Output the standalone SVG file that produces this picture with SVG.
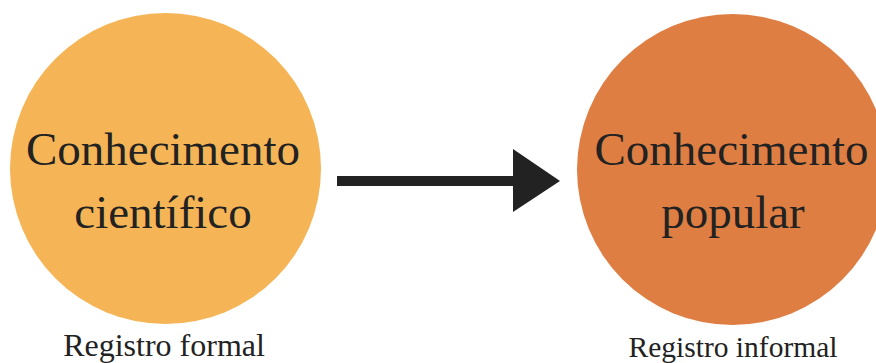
<svg xmlns="http://www.w3.org/2000/svg" width="876" height="363" viewBox="0 0 876 363">
<style>
.t{font-family:'Liberation Serif', 'Times New Roman', Times, serif;fill:#222;text-anchor:middle}
.big{font-size:47px}
</style>
<rect width="876" height="363" fill="#fff"/>
<g id="node-cientifico">
<circle cx="165.5" cy="168.5" r="155.5" fill="#F5B556"/>
<text class="t big" x="163" y="165">Conhecimento</text>
<text class="t big" x="163" y="228">científico</text>
<text class="t" x="164" y="356" font-size="32">Registro formal</text>
</g>
<g id="node-popular">
<circle cx="732.5" cy="169.5" r="155.5" fill="#DE7E43"/>
<text class="t big" x="731.5" y="165">Conhecimento</text>
<text class="t big" x="733" y="228">popular</text>
<text class="t" x="733" y="357" font-size="29.5">Registro informal</text>
</g>
<g id="connectors">
<rect x="337" y="176" width="177" height="10" fill="#222"/>
<polygon points="513,149 560,181 513,212" fill="#222"/>
</g>
</svg>
